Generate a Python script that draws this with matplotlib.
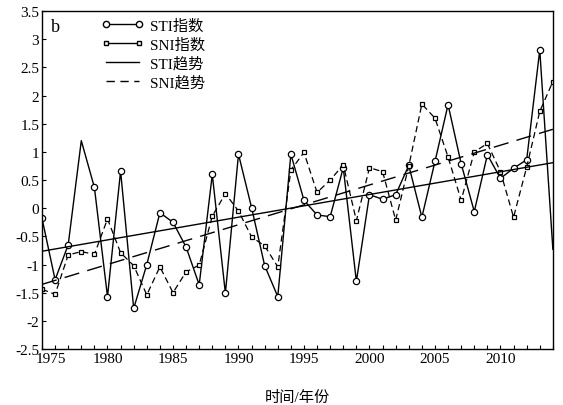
import numpy as np
import matplotlib.pyplot as plt
import matplotlib.transforms as mtransforms
from matplotlib.lines import Line2D
from matplotlib.ticker import MultipleLocator

plt.rcParams['font.family'] = ['Liberation Serif', 'Noto Sans CJK SC']
plt.rcParams['axes.unicode_minus'] = False

years = np.arange(1975, 2015)

sti = [-0.18, -1.27, -0.65, 1.20, 0.37, -1.57, 0.66, -1.78, -1.00, -0.08,
       -0.25, -0.69, -1.36, 0.60, -1.51, 0.96, 0.01, -1.02, -1.57, 0.96,
       0.14, -0.12, -0.15, 0.72, -1.30, 0.24, 0.16, 0.24, 0.76, -0.16,
       0.83, 1.84, 0.79, -0.06, 0.95, 0.53, 0.71, 0.86, 2.81, -0.73]

sni = [-1.44, -1.53, -0.83, -0.77, -0.82, -0.19, -0.79, -1.02, -1.54, -1.04,
       -1.50, -1.13, -1.01, -0.14, 0.26, -0.05, -0.51, -0.67, -1.04, 0.68,
       0.99, 0.28, 0.50, 0.77, -0.22, 0.72, 0.65, -0.21, 0.75, 1.85,
       1.60, 0.91, 0.14, 1.00, 1.15, 0.65, -0.16, 0.73, 1.72, 2.25]

xticks = [1975, 1980, 1985, 1990, 1995, 2000, 2005, 2010]
yticks = np.arange(-2.5, 3.51, 0.5)

# linear trends
sti_fit = np.polyval(np.polyfit(years, sti, 1), years)
sni_fit = np.polyval(np.polyfit(years, sni, 1), years)

fig = plt.figure(figsize=(5.63, 4.06), dpi=100)
ax = fig.add_axes([0.0746, 0.138, 0.9074, 0.832])

# STI markers skipped where the line peaks/ends without a symbol
sti_marks = [i for i in range(len(years)) if i not in (3, 39)]
ax.plot(years, sti, color='black', lw=1.0, marker='o', ms=4.5, mfc='white',
        mec='black', mew=0.9, markevery=sti_marks)
ax.plot(years, sni, color='black', lw=0.9, ls=(0, (5, 3)), marker='s',
        ms=3.5, mfc='white', mec='black', mew=0.9)
ax.plot(years, sti_fit, color='black', lw=1.0)
ax.plot(years, sni_fit, color='black', lw=1.0, ls=(0, (11, 6)))

ax.set_xlim(1975, 2014)
ax.set_ylim(-2.5, 3.5)
ax.set_xticks(xticks)
ax.xaxis.set_minor_locator(MultipleLocator(1))
ax.set_yticks(yticks)
ax.set_yticklabels(['%g' % v if v != 0 else '0' for v in yticks])
ax.tick_params(which='both', direction='in', length=3, width=0.8,
               labelsize=11, pad=2)
for s in ax.spines.values():
    s.set_linewidth(1.0)

# nudge the first year label clear of the -2.5 label
first = ax.get_xticklabels()[0]
first.set_transform(first.get_transform() +
                    mtransforms.ScaledTranslation(9 / 100, 0, fig.dpi_scale_trans))

ax.set_xlabel('时间/年份', fontsize=11, labelpad=18)
ax.text(0.018, 0.94, 'b', transform=ax.transAxes, fontsize=13)

handles = [
    Line2D([], [], color='black', lw=1.0, marker='o', ms=4.5, mfc='white'),
    Line2D([], [], color='black', lw=1.0, marker='s', ms=3.5, mfc='white'),
    Line2D([], [], color='black', lw=1.0),
    Line2D([], [], color='black', lw=1.0, ls=(0, (6, 4))),
]
labels = ['STI指数', 'SNI指数', 'STI趋势', 'SNI趋势']
ax.legend(handles, labels, loc='upper left', bbox_to_anchor=(0.095, 1.01),
          frameon=False, fontsize=11, numpoints=2, handlelength=2.8,
          handletextpad=0.4, labelspacing=0.3, borderaxespad=0.3)

fig.savefig('out.png', dpi=100)
